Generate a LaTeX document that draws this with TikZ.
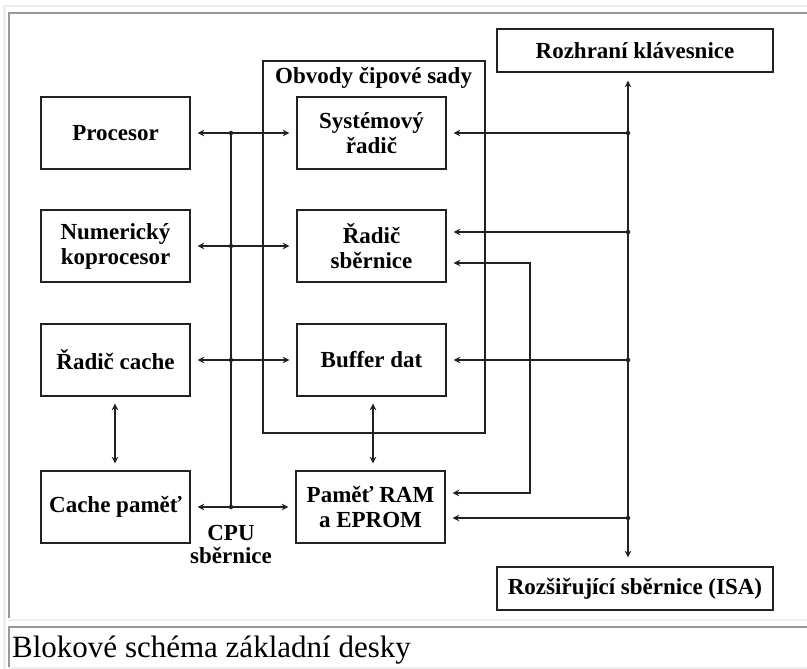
\documentclass[tikz,border=0pt]{standalone}
\usepackage{fontspec}
\setmainfont{Liberation Serif}
\usepackage{xcolor}
\usetikzlibrary{arrows.meta,positioning}

\definecolor{ramtmavy}{HTML}{999999}
\definecolor{ramsvetly}{HTML}{EEEEEE}
\definecolor{cara}{HTML}{222222}

\begin{document}
\begin{tikzpicture}[x=1pt, y=-1pt,
    blok/.style={draw=cara, line width=1.4pt, align=center, inner sep=0pt, minimum width=149pt, minimum height=72pt, font=\bfseries\fontsize{23}{25}\selectfont},
    sirokyblok/.style={blok, minimum width=276pt, minimum height=43pt},
    popis/.style={inner sep=0pt, align=center, font=\bfseries\fontsize{23}{23.5}\selectfont},
    sip/.style={draw=cara, line width=1.4pt, {Stealth[length=6.5pt,width=6.5pt,inset=2pt]}-{Stealth[length=6.5pt,width=6.5pt,inset=2pt]}, shorten <=7pt, shorten >=7pt},
    jedensip/.style={draw=cara, line width=1.4pt, -{Stealth[length=6.5pt,width=6.5pt,inset=2pt]}, shorten >=7pt},
    bod/.style={circle, fill=cara, inner sep=0pt, minimum size=4.5pt}]
    \useasboundingbox (0,0) rectangle (807,669);
    \fill[white] (0,0) rectangle (807,669);
    % ramecky tabulky
    \fill[ramsvetly] (3,5) rectangle (807,7);
    \fill[ramsvetly] (3,5) rectangle (6,669);
    \fill[ramtmavy] (8,12) rectangle (807,14);
    \fill[ramtmavy] (8,12) rectangle (10,618);
    \fill[ramsvetly] (8,619) rectangle (807,621);
    \fill[ramtmavy] (8,626) rectangle (807,628);
    \fill[ramtmavy] (8,626) rectangle (10,669);
    \fill[ramsvetly] (8,667) rectangle (807,669);

    % obvody cipove sady
    \draw[cara, line width=1.4pt] (263,61) rectangle (485,433);
    \node[popis, anchor=base west] (sada) at (275,84) {Obvody čipové sady};

    % bloky
    \node[blok] (proc) at (115.5,133) {Procesor};
    \node[blok] (kopr) at (115.5,246) {Numerický\\koprocesor};
    \node[blok] (radcache) at (115.5,360) {Řadič cache};
    \node[blok] (pamcache) at (115.5,507) {Cache paměť};
    \node[blok] (sysrad) at (371.5,133) {Systémový\\řadič};
    \node[blok] (radsber) at (371.5,246) {Řadič\\sběrnice};
    \node[blok] (buffer) at (371.5,360) {Buffer dat};
    \node[blok] (ram) at (370.5,507) {Paměť RAM\\a EPROM};
    \node[sirokyblok] (klav) at (635,50.5) {Rozhraní klávesnice};
    \node[sirokyblok] (isa) at (635,588.5) {Rozšiřující sběrnice (ISA)};

    % CPU sbernice
    \coordinate (c1) at (231,133);
    \coordinate (c4) at (231,507);
    \draw[cara, line width=1.4pt] (c1) -- (c4);
    \draw[sip] (proc) -- (sysrad);
    \draw[sip] (kopr) -- (radsber);
    \draw[sip] (radcache) -- (buffer);
    \draw[sip] (pamcache) -- (ram);
    \foreach \y in {133,246,360,507}
        \node[bod] at (231,\y) {};
    \node[popis, below=18pt of c4] (cpu) {CPU\\sběrnice};

    % svisle sipky
    \draw[sip] ([xshift=-0.5pt]radcache.south) -- ([xshift=-0.5pt]pamcache.north);
    \draw[sip] ([xshift=1.5pt]buffer.south) -- ([xshift=2.5pt]ram.north);

    % ISA sbernice
    \coordinate (s1) at (628,133);
    \coordinate (s2) at (628,232);
    \coordinate (s3) at (628,360);
    \coordinate (s4) at (628,518);
    \draw[sip, shorten <=8pt, shorten >=9pt] (klav.south -| s1) -- (isa.north -| s1);
    \draw[jedensip] (s1) -- (s1 -| sysrad.east);
    \draw[jedensip] (s2) -- (s2 -| radsber.east);
    \draw[jedensip] (s3) -- (s3 -| buffer.east);
    \draw[jedensip] (s4) -- (s4 -| ram.east);
    \foreach \b in {s1,s2,s3,s4}
        \node[bod] at (\b) {};
    \draw[sip] ([yshift=-17pt]radsber.east) -| (530,493) -- ([yshift=14pt]ram.east);

    % popisek
    \node[anchor=base west, inner sep=0pt, font=\fontsize{31}{32}\selectfont] (titulek) at (12,657) {Blokové schéma základní desky};
\end{tikzpicture}
\end{document}
